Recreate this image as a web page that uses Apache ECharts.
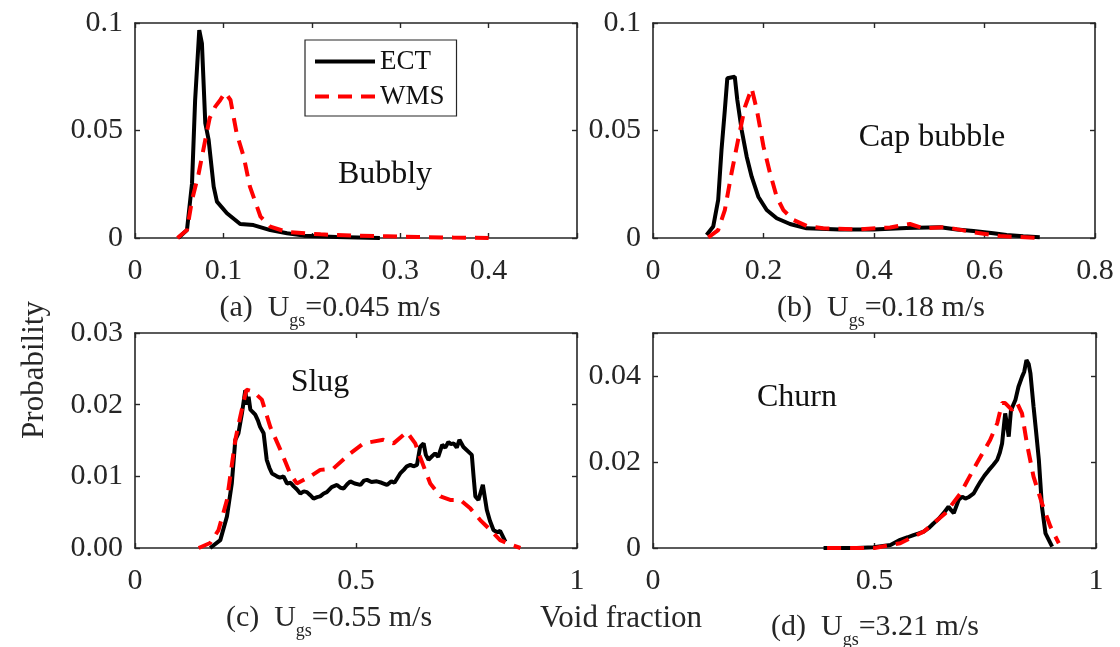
<!DOCTYPE html>
<html><head><meta charset="utf-8">
<script src="https://cdn.jsdelivr.net/npm/echarts@6/dist/echarts.min.js"></script>
<style>html,body{margin:0;padding:0;background:#fff}#c{width:1120px;height:647px}</style>
</head><body><div id="c"></div>
<script>
// ---------- data (x = void fraction, y = probability) ----------
const bubblyECT = [[0.049,0],[0.0588,0.0037],[0.0645,0.0254],[0.068,0.064],[0.0727,0.0967],[0.0757,0.0905],[0.0795,0.0534],[0.0833,0.0456],[0.089,0.0239],[0.0927,0.0169],[0.104,0.0115],[0.119,0.0065],[0.134,0.006],[0.153,0.0037],[0.172,0.0022],[0.191,0.0011],[0.228,0.0005],[0.277,0]];
const bubblyWMS = [[0.048,0],[0.0588,0.0037],[0.0645,0.0177],[0.072,0.030],[0.0795,0.0456],[0.0844,0.0557],[0.0908,0.0611],[0.0965,0.0642],[0.102,0.0676],[0.108,0.0642],[0.115,0.0487],[0.123,0.0378],[0.130,0.0239],[0.142,0.0099],[0.153,0.0053],[0.172,0.0028],[0.21,0.0017],[0.247,0.0011],[0.285,0.0008],[0.32,0.0005],[0.36,0.0002],[0.4,0]];
const capECT = [[0.097,0.0014],[0.109,0.0053],[0.118,0.0177],[0.124,0.041],[0.130,0.0595],[0.1345,0.0743],[0.148,0.075],[0.1526,0.0642],[0.1605,0.0502],[0.1696,0.0378],[0.1786,0.0285],[0.1906,0.0192],[0.2058,0.013],[0.2239,0.0092],[0.248,0.0065],[0.278,0.0045],[0.338,0.004],[0.399,0.004],[0.459,0.0047],[0.52,0.005],[0.55,0.004],[0.58,0.0033],[0.616,0.0022],[0.64,0.0014],[0.67,0.0008],[0.70,0.0003]];
const capWMS = [[0.1,0.0003],[0.118,0.0037],[0.130,0.013],[0.142,0.030],[0.154,0.0456],[0.1665,0.061],[0.1786,0.0696],[0.188,0.0595],[0.200,0.0425],[0.212,0.030],[0.224,0.019],[0.236,0.013],[0.254,0.0084],[0.278,0.0056],[0.308,0.0045],[0.369,0.004],[0.429,0.0049],[0.465,0.0065],[0.49,0.0045],[0.53,0.005],[0.58,0.0027],[0.628,0.0009],[0.70,0]];
const slugECT = [[0.170,0],[0.193,0.0011],[0.208,0.0044],[0.219,0.009],[0.227,0.0151],[0.234,0.016],[0.242,0.0188],[0.2495,0.022],[0.253,0.0200],[0.257,0.0211],[0.261,0.0193],[0.266,0.0190],[0.272,0.0186],[0.278,0.0178],[0.283,0.0169],[0.291,0.016],[0.298,0.0123],[0.304,0.0112],[0.31,0.0104],[0.316,0.0102],[0.321,0.01],[0.328,0.0098],[0.336,0.01],[0.344,0.009],[0.352,0.0091],[0.359,0.0086],[0.366,0.0082],[0.374,0.0076],[0.382,0.0079],[0.389,0.0078],[0.396,0.0074],[0.404,0.0069],[0.412,0.0071],[0.419,0.0072],[0.427,0.0076],[0.434,0.0078],[0.445,0.0085],[0.457,0.0088],[0.465,0.0084],[0.472,0.0083],[0.480,0.0089],[0.487,0.0093],[0.497,0.009],[0.51,0.0088],[0.518,0.0094],[0.525,0.0095],[0.535,0.0092],[0.547,0.0093],[0.558,0.0091],[0.570,0.0088],[0.580,0.0093],[0.587,0.0091],[0.593,0.0097],[0.600,0.0104],[0.608,0.0109],[0.615,0.0114],[0.623,0.0116],[0.630,0.0114],[0.638,0.0116],[0.645,0.0141],[0.653,0.0146],[0.658,0.0130],[0.664,0.0123],[0.672,0.0128],[0.679,0.0132],[0.686,0.0127],[0.695,0.0144],[0.702,0.0140],[0.709,0.0148],[0.715,0.0145],[0.721,0.0146],[0.728,0.0140],[0.734,0.0151],[0.743,0.0141],[0.762,0.013],[0.766,0.0100],[0.77,0.0072],[0.777,0.0067],[0.787,0.0088],[0.796,0.0053],[0.803,0.0038],[0.811,0.0025],[0.819,0.0022],[0.826,0.0024],[0.838,0.0009]];
const slugWMS = [[0.144,0],[0.170,0.0007],[0.189,0.0025],[0.208,0.0067],[0.227,0.0151],[0.238,0.0183],[0.252,0.0221],[0.268,0.0218],[0.287,0.0207],[0.306,0.0169],[0.329,0.0137],[0.351,0.0104],[0.366,0.009],[0.397,0.01],[0.419,0.0109],[0.449,0.0111],[0.487,0.0132],[0.517,0.0146],[0.562,0.0151],[0.585,0.0146],[0.615,0.0162],[0.634,0.0146],[0.645,0.0127],[0.668,0.009],[0.691,0.0072],[0.713,0.0067],[0.736,0.0067],[0.759,0.0055],[0.781,0.0039],[0.804,0.0025],[0.826,0.0011],[0.849,0.0005],[0.872,0]];
const churnECT = [[0.385,0],[0.46,0],[0.498,0.0002],[0.536,0.0007],[0.558,0.0019],[0.575,0.0025],[0.588,0.003],[0.600,0.0034],[0.611,0.0038],[0.622,0.0046],[0.633,0.0057],[0.645,0.0068],[0.656,0.0081],[0.667,0.0096],[0.673,0.0088],[0.679,0.0081],[0.690,0.0112],[0.698,0.0119],[0.705,0.0115],[0.712,0.0118],[0.724,0.0127],[0.731,0.0140],[0.739,0.0154],[0.748,0.0168],[0.758,0.0181],[0.768,0.0193],[0.777,0.0205],[0.783,0.0222],[0.788,0.0243],[0.795,0.0313],[0.800,0.0280],[0.803,0.0259],[0.808,0.0320],[0.818,0.0344],[0.825,0.0375],[0.833,0.0398],[0.838,0.0410],[0.843,0.0437],[0.848,0.0428],[0.852,0.0406],[0.859,0.0329],[0.865,0.0268],[0.871,0.0205],[0.878,0.0096],[0.886,0.0034],[0.901,0.0003]];
const churnWMS = [[0.393,0],[0.50,0],[0.558,0.0011],[0.611,0.0038],[0.633,0.0057],[0.66,0.0081],[0.694,0.0127],[0.731,0.0197],[0.761,0.0251],[0.777,0.029],[0.788,0.0337],[0.795,0.0337],[0.81,0.0321],[0.822,0.0337],[0.833,0.0313],[0.844,0.0243],[0.859,0.0166],[0.878,0.0104],[0.897,0.005],[0.916,0.0011]];

const regimes = ['Bubbly','Cap bubble','Slug','Churn'];
const captionLetters = ['(a)','(b)','(c)','(d)'];
const ugsValues = ['0.045','0.18','0.55','3.21'];
const seriesNames = ['ECT','WMS'];
const xLimits = [[0,0.5,0.1],[0,0.8,0.2],[0,1,0.5],[0,1,0.5]];
const yLimits = [[0,0.1,0.05],[0,0.1,0.05],[0,0.03,0.01],[0,0.05,0.02]];
const panelData = [[bubblyECT,bubblyWMS],[capECT,capWMS],[slugECT,slugWMS],[churnECT,churnWMS]];

// ---------- layout ----------
const FONT = '"Liberation Serif", "Times New Roman", serif';
const INK = '#262626';
const grids = [
  {left:135, top:23, width:442, height:215},
  {left:653, top:23, width:442, height:215},
  {left:135, top:333, width:442, height:215},
  {left:653, top:333, width:443, height:215}
];
const xFmt = [
  v => v >= 0.499 ? '' : (v === 0 ? '0' : String(+v.toFixed(1))),
  v => v === 0 ? '0' : String(+v.toFixed(1)),
  v => v === 0 ? '0' : String(+v.toFixed(1)),
  v => v === 0 ? '0' : String(+v.toFixed(1))
];
const yFmt = [
  v => v === 0 ? '0' : String(+v.toFixed(2)),
  v => v === 0 ? '0' : String(+v.toFixed(2)),
  v => v.toFixed(2),
  v => v > 0.045 ? '' : (v === 0 ? '0' : String(+v.toFixed(2)))
];

const xAxes = [], yAxes = [], series = [], titles = [];
grids.forEach((g, i) => {
  const [xmin,xmax,xint] = xLimits[i];
  const [ymin,ymax,yint] = yLimits[i];
  const common = {
    axisLine:{show:true, onZero:false, lineStyle:{color:INK, width:1.6}},
    axisTick:{show:true, inside:true, length:5, lineStyle:{color:INK, width:1.4}},
    splitLine:{show:false}
  };
  xAxes.push(Object.assign({type:'value', gridIndex:i, position:'bottom', min:xmin, max:xmax, interval:xint,
    axisLabel:{show:true, formatter:xFmt[i], color:INK, fontFamily:FONT, fontSize:30, margin:18}}, common));
  xAxes.push(Object.assign({type:'value', gridIndex:i, position:'top', min:xmin, max:xmax, interval:xint,
    axisLabel:{show:false}}, common));
  yAxes.push(Object.assign({type:'value', gridIndex:i, position:'left', min:ymin, max:ymax, interval:yint,
    axisLabel:{show:true, formatter:yFmt[i], color:INK, fontFamily:FONT, fontSize:30, margin:12}}, common));
  yAxes.push(Object.assign({type:'value', gridIndex:i, position:'right', min:ymin, max:ymax, interval:yint,
    axisLabel:{show:false}}, common));
  panelData[i].forEach((d, k) => {
    series.push({
      name: seriesNames[k], type:'line', xAxisIndex:2*i, yAxisIndex:2*i, data:d,
      symbol:'none', smooth:false, z: k === 0 ? 3 : 4,
      lineStyle: k === 0 ? {color:'#000', width:4} : {color:'#ff0000', width:4, type:[14,9]},
      itemStyle: {color: k === 0 ? '#000' : '#ff0000'}
    });
  });
});

const capPos = [[330,293],[881,293],[329,603],[875,612]];
capPos.forEach((p, i) => {
  titles.push({
    left:p[0], top:p[1], textAlign:'center', padding:0,
    text:'{m|' + captionLetters[i] + '  U}{s|gs}{m|=' + ugsValues[i] + ' m/s}',
    textStyle:{fontWeight:'normal', rich:{
      m:{fontFamily:FONT, fontSize:30, fontWeight:'normal', color:INK, lineHeight:30, verticalAlign:'top'},
      s:{fontFamily:FONT, fontSize:18, fontWeight:'normal', color:INK, lineHeight:18, padding:[19,0,0,0], verticalAlign:'top'}
    }}
  });
});

const regimePos = [[385,175],[932,138],[320,383],[797,398]];
const graphics = regimePos.map((p, i) => ({
  type:'text', x:p[0], y:p[1],
  style:{text:regimes[i], font:'32px ' + FONT, fill:'#111', align:'center', verticalAlign:'middle'}
}));
graphics.push({type:'text', x:35, y:370, rotation:Math.PI/2,
  style:{text:'Probability', font:'31px ' + FONT, fill:INK, align:'center', verticalAlign:'middle'}});
graphics.push({type:'text', x:621, y:619,
  style:{text:'Void fraction', font:'31px ' + FONT, fill:INK, align:'center', verticalAlign:'middle'}});

const chart = echarts.init(document.getElementById('c'), null, {renderer:'canvas'});
chart.setOption({
  animation:false,
  backgroundColor:'#fff',
  title:titles,
  grid:grids,
  xAxis:xAxes,
  yAxis:yAxes,
  legend:{
    data:seriesNames, orient:'vertical', left:305, top:40,
    itemWidth:60, itemHeight:14, itemGap:8,
    padding:[8,12,6,8], borderColor:INK, borderWidth:1.2, backgroundColor:'#fff',
    itemStyle:{color:'rgba(0,0,0,0)', borderColor:'rgba(0,0,0,0)', borderWidth:0, opacity:0},
    lineStyle:{width:4},
    textStyle:{fontFamily:FONT, fontSize:27, color:'#111', lineHeight:27},
    selectedMode:false
  },
  graphic:graphics,
  series:series
});
</script>
</body></html>
